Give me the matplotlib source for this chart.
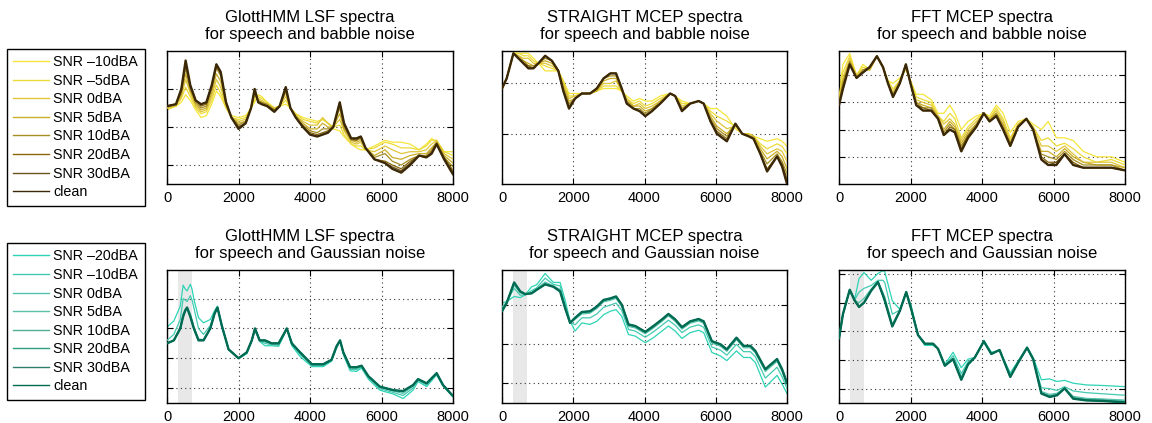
import matplotlib
matplotlib.use("Agg")
import matplotlib.pyplot as plt
from matplotlib.lines import Line2D

plt.rcParams['font.family'] = ['Liberation Sans', 'DejaVu Sans']

# ---- labels ----
babble_labels = ['SNR \u201310dBA', 'SNR \u20135dBA', 'SNR 0dBA', 'SNR 5dBA',
                 'SNR 10dBA', 'SNR 20dBA', 'SNR 30dBA', 'clean']
gauss_labels = ['SNR \u201320dBA', 'SNR \u201310dBA', 'SNR 0dBA', 'SNR 5dBA',
                'SNR 10dBA', 'SNR 20dBA', 'SNR 30dBA', 'clean']
babble_colors = ['#f6e53a', '#eddb38', '#dfc63a', '#ccae28', '#a68e22', '#866606', '#6b5220', '#3b2806']
gauss_colors = ['#2ed4b6', '#44cab1', '#52c2aa', '#5cc0aa', '#50ad98', '#2e9e82', '#2f7f70', '#006b52']

# ---- GlottHMM LSF, babble ----
f1 = [0, 250, 400, 520, 650, 800, 950, 1100, 1250, 1380, 1500, 1650, 1800, 2000, 2200, 2350,
      2450, 2550, 2650, 2800, 3000, 3150, 3320, 3450, 3600, 3800, 4000, 4200, 4350, 4500, 4650,
      4830, 4950, 5150, 5300, 5420, 5550, 5800, 6100, 6300, 6550, 6800, 7050, 7250, 7400, 7540,
      7750, 8000]
lsf_bab_m10 = [-31, -29, -27, -23, -26, -31, -35, -34, -28, -21, -24, -30, -34, -35, -34, -30, -27, -23, -24, -27,
               -30, -29, -28, -30, -33, -35, -36, -37, -36, -38, -41, -42, -45, -49, -51, -52, -52, -50, -47, -48,
               -48, -49, -52, -49, -46, -48, -53, -53]
lsf_bab_m5 = [-30, -29, -25, -19, -24, -30, -33, -32, -26, -18, -22, -30, -35, -36, -35, -30, -26, -24, -25, -27,
              -30, -29, -26, -30, -33, -36, -37, -38, -36, -38, -40, -39, -44, -49, -50, -50, -52, -51, -48, -49,
              -51, -51, -52, -50, -47, -47, -53, -55]
lsf_bab_0 = [-30, -29, -24, -15, -22, -29, -32, -31, -24, -15, -19, -29, -35, -37, -36, -30, -24, -25, -26, -28,
             -30, -29, -24, -30, -34, -37, -39, -39, -35, -38, -40, -36, -42, -48, -49, -48, -52, -53, -50, -52,
             -54, -53, -53, -52, -49, -47, -54, -57]
lsf_bab_5 = [-30, -28, -23, -12, -21, -28, -31, -30, -22, -12, -16, -28, -35, -38, -37, -30, -23, -26, -27, -28,
             -31, -29, -22, -30, -34, -38, -41, -41, -38, -40, -40, -33, -41, -47, -48, -47, -51, -55, -52, -56,
             -57, -55, -54, -54, -51, -48, -55, -59]
lsf_bab_10 = [-29, -28, -22, -9, -20, -27, -30, -29, -20, -9, -13, -28, -35, -39, -37, -30, -22, -26, -27, -28,
              -31, -29, -21, -30, -35, -39, -42, -43, -41, -41, -40, -30, -40, -47, -47, -46, -51, -56, -54, -58,
              -60, -57, -55, -55, -52, -48, -56, -61]
lsf_bab_20 = [-29, -28, -21, -7, -19, -26, -29, -28, -19, -8, -12, -27, -35, -40, -38, -30, -21, -27, -28, -29,
              -31, -29, -20, -30, -35, -40, -43, -44, -43, -42, -40, -28, -39, -46, -47, -45, -51, -57, -58, -60,
              -62, -58, -55, -56, -53, -49, -56, -63]
lsf_bab_30 = [-29, -28, -20, -6, -18, -26, -28, -27, -18, -7, -11, -27, -35, -40, -38, -30, -20, -27, -28, -29,
              -32, -29, -19, -30, -35, -40, -44, -45, -44, -43, -40, -27, -38, -46, -46, -45, -51, -57, -59, -61,
              -63, -59, -55, -56, -54, -49, -57, -64]
lsf_bab_clean = [-29, -28, -20, -5, -18, -26, -28, -27, -18, -7, -11, -27, -35, -41, -38, -30, -20, -27, -28, -29,
                 -32, -29, -19, -30, -35, -40, -44, -45, -44, -43, -40, -27, -38, -46, -46, -45, -51, -57, -59, -62,
                 -64, -60, -55, -56, -54, -49, -57, -65]

# ---- STRAIGHT MCEP, babble ----
f2 = [0, 130, 320, 460, 600, 740, 880, 1020, 1210, 1400, 1580, 1720, 1880, 2050, 2240, 2470, 2660, 2850,
      3040, 3200, 3360, 3500, 3690, 3860, 4020, 4210, 4440, 4720, 4860, 5050, 5280, 5520, 5660, 5850,
      6030, 6310, 6550, 6740, 6920, 7060, 7250, 7440, 7720, 7860, 8000]
st_bab_m10 = [-22, -18, -8, -8, -8, -8, -10, -12, -15, -15, -15, -19, -24, -24, -24, -24, -23, -22, -22, -22,
              -23, -25, -27, -26, -27, -27, -25, -24, -25, -27, -28, -27, -28, -30, -30, -33, -38, -40, -40, -41,
              -42, -43, -42, -43, -45]
st_bab_m5 = [-22, -18, -8, -8, -9, -9, -11, -12, -13, -14, -15, -19, -25, -25, -24, -24, -23, -21, -21, -21,
             -23, -26, -28, -27, -29, -28, -26, -24, -25, -28, -28, -27, -28, -31, -33, -35, -37, -40, -40, -41,
             -44, -46, -44, -45, -48]
st_bab_0 = [-22, -18, -8, -9, -10, -10, -12, -12, -12, -13, -15, -20, -26, -25, -24, -24, -23, -20, -20, -19,
            -23, -26, -29, -28, -30, -29, -27, -24, -25, -29, -28, -27, -28, -32, -35, -38, -37, -40, -40, -41,
            -45, -48, -46, -47, -51]
st_bab_5 = [-22, -18, -8, -9, -11, -12, -13, -12, -11, -12, -15, -21, -27, -26, -24, -24, -23, -19, -18, -18,
            -23, -27, -29, -29, -31, -30, -27, -24, -25, -30, -28, -27, -28, -33, -37, -40, -36, -40, -41, -41,
            -46, -50, -47, -49, -54]
st_bab_10 = [-22, -18, -8, -10, -11, -13, -13, -12, -10, -11, -15, -22, -28, -26, -24, -24, -22, -18, -17, -17,
             -22, -27, -30, -30, -32, -30, -28, -24, -25, -30, -28, -27, -28, -34, -38, -41, -36, -40, -41, -42,
             -47, -52, -48, -51, -56]
st_bab_20 = [-22, -18, -8, -10, -12, -13, -14, -12, -9, -11, -15, -23, -29, -26, -24, -24, -22, -18, -16, -16,
             -22, -28, -30, -31, -33, -31, -28, -24, -25, -31, -28, -27, -28, -35, -39, -42, -36, -40, -41, -42,
             -48, -54, -49, -52, -58]
st_bab_30 = [-22, -18, -8, -10, -12, -14, -14, -12, -9, -11, -15, -23, -30, -26, -24, -24, -22, -18, -16, -16,
             -22, -28, -30, -31, -33, -31, -28, -24, -25, -31, -28, -27, -28, -35, -40, -43, -36, -40, -41, -42,
             -48, -55, -49, -53, -59]
st_bab_clean = [-22, -18, -8, -10, -12, -14, -14, -12, -9, -11, -15, -23, -30, -26, -24, -24, -22, -18, -16, -16,
                -22, -28, -30, -31, -33, -31, -28, -24, -25, -31, -28, -27, -28, -35, -40, -43, -36, -40, -41, -42,
                -48, -55, -49, -53, -60]

# ---- FFT MCEP, babble ----
f3 = [0, 110, 300, 490, 670, 860, 1060, 1230, 1370, 1510, 1700, 1870, 2000, 2160, 2350, 2580, 2770, 2930,
      3100, 3240, 3420, 3610, 3840, 4050, 4210, 4400, 4590, 4790, 5010, 5240, 5430, 5660, 5850, 6080,
      6310, 6550, 6830, 7200, 7620, 8000]
fft_bab_m10 = [-17, -6, -2, -10, -6, -8, -3, -7, -12, -13, -11, -8, -12, -17, -17, -19, -24, -24, -21, -24,
               -30, -27, -25, -24, -25, -21, -24, -31, -27, -26, -28, -30, -27, -33, -33, -34, -38, -40, -40, -42]
fft_bab_m5 = [-18, -9, -3, -10, -7, -8, -3, -7, -12, -15, -12, -7, -12, -18, -19, -20, -25, -27, -24, -26,
              -33, -29, -26, -24, -26, -22, -26, -33, -28, -26, -29, -34, -33, -36, -35, -37, -40, -42, -41, -43]
fft_bab_0 = [-19, -11, -4, -10, -8, -8, -3, -7, -13, -16, -12, -7, -13, -19, -20, -21, -25, -28, -26, -28,
             -34, -30, -27, -24, -26, -23, -27, -34, -28, -26, -29, -36, -36, -38, -36, -39, -42, -42, -42, -44]
fft_bab_5 = [-19, -12, -5, -11, -8, -8, -3, -7, -13, -17, -12, -7, -13, -20, -21, -22, -25, -30, -27, -29,
             -35, -31, -28, -24, -26, -24, -28, -35, -28, -26, -30, -38, -38, -40, -37, -40, -42, -43, -43, -44]
fft_bab_10 = [-20, -13, -5, -11, -8, -7, -3, -7, -13, -17, -13, -6, -13, -20, -22, -22, -26, -31, -28, -30,
              -36, -32, -28, -24, -27, -24, -29, -35, -29, -26, -30, -39, -40, -41, -38, -41, -43, -43, -43, -45]
fft_bab_20 = [-20, -14, -6, -11, -9, -7, -3, -7, -13, -18, -13, -6, -13, -21, -22, -23, -26, -32, -29, -30,
              -37, -32, -29, -24, -27, -25, -30, -36, -29, -26, -30, -40, -42, -42, -39, -42, -44, -44, -44, -45]
fft_bab_30 = [-21, -15, -6, -11, -9, -7, -3, -7, -13, -18, -13, -6, -13, -21, -23, -23, -26, -32, -30, -31,
              -38, -33, -29, -24, -27, -25, -30, -36, -29, -26, -30, -41, -43, -42, -39, -43, -44, -44, -44, -45]
fft_bab_clean = [-21, -15, -6, -11, -9, -7, -3, -7, -13, -18, -13, -6, -13, -21, -23, -23, -26, -32, -30, -31,
                 -38, -33, -29, -24, -27, -25, -30, -36, -29, -26, -30, -41, -43, -43, -39, -43, -44, -44, -44, -45]

# ---- GlottHMM LSF, Gaussian ----
f4 = [0, 190, 370, 450, 510, 560, 650, 700, 750, 880, 1020, 1210, 1330, 1410, 1530, 1720, 2000, 2230,
      2370, 2460, 2590, 2740, 2930, 3120, 3260, 3350, 3490, 3720, 4050, 4370, 4600, 4740, 4840, 4930,
      5120, 5300, 5440, 5630, 5950, 6330, 6600, 6880, 7020, 7260, 7540, 7720, 8000]
lsf_gau_m20 = [-19.5, -17.5, -12.5, -5.5, -6.8, -7.4, -5.2, -6.8, -10.2, -16.4, -18.1, -17, -14, -12.5, -18.6,
               -27, -30, -28.5, -24.3, -20.6, -24.3, -25.8, -25.8, -26, -22.6, -20, -25.8, -29.4, -32.8, -32.8,
               -31, -26.6, -24.3, -28.8, -34.2, -34.4, -33.3, -37, -40.7, -42, -43.5, -40.7, -37.8, -39.5,
               -35.6, -39.3, -43]
lsf_gau_m10 = [-24, -22, -17, -10, -10.5, -11, -9, -10.5, -13, -20, -22, -19, -14.5, -12.8, -19, -27, -30,
               -28.3, -24.2, -20.3, -24.2, -25, -25.5, -25.6, -22.3, -20, -25.5, -28.7, -32.4, -32.4, -30.8,
               -26.3, -24.1, -28.4, -33.7, -33.8, -33, -36.6, -40.2, -41.5, -42.5, -40, -37.4, -39, -35.3,
               -39.2, -42.9]
lsf_gau_0 = [-25, -24, -19.5, -15, -13.5, -12.8, -15, -17, -19.5, -23.5, -23.8, -19.8, -15, -13, -19, -27, -30,
             -28, -24, -20.2, -24, -24.5, -25.2, -25.3, -22.1, -20, -25.2, -28.3, -32.2, -32.2, -30.6, -26.1,
             -24, -28.2, -33.3, -33.4, -32.7, -36.3, -39.8, -41, -41.8, -39.4, -37.2, -38.6, -35.1, -39.1, -42.8]
lsf_gau_5 = [-25, -24, -20, -15.6, -13.8, -13, -15.8, -17.8, -19.8, -23.8, -24, -20, -15, -13, -19, -27, -30,
             -28, -24, -20, -24, -24.3, -25.1, -25.1, -22, -20, -25.1, -28.1, -32.1, -32.1, -30.5, -26, -24,
             -28.1, -33.1, -33.2, -32.6, -36.1, -39.6, -40.8, -41.3, -39.2, -37.1, -38.5, -35, -39, -42.7]
lsf_gau_10 = [-25, -24, -20, -15.8, -13.9, -13, -15.9, -17.9, -19.9, -23.9, -24, -20, -15, -13, -19, -27, -30,
              -28, -24, -20, -24, -24.1, -25, -25, -22, -20, -25, -28, -32, -32, -30.5, -26, -24, -28, -33, -33,
              -32.5, -36, -39.5, -40.7, -41.1, -39.1, -37, -38.4, -35, -39, -42.7]
lsf_gau_20 = [-25, -24, -20, -16, -14, -13, -16, -18, -20, -24, -24, -20, -15, -13, -19, -27, -30, -28, -24,
              -20, -24, -24, -25, -25, -22, -20, -25, -28, -32, -32, -30.5, -26, -24, -28, -33, -33, -32.5, -36,
              -39.5, -40.7, -41, -39, -37, -38.4, -35, -39, -42.7]
lsf_gau_30 = [-25, -24, -20, -16, -14, -13, -16, -18, -20, -24, -24, -20, -15, -13, -19, -27, -30, -28, -24,
              -20, -24, -24, -25, -25, -22, -20, -25, -28, -32, -32, -30.5, -26, -24, -28, -33, -33, -32.5, -36,
              -39.5, -40.7, -41, -39, -37, -38.4, -35, -39, -42.7]
lsf_gau_clean = [-25, -24, -20, -16, -14, -13, -16, -18, -20, -24, -24, -20, -15, -13, -19, -27, -30, -28, -24,
                 -20, -24, -24, -25, -25, -22, -20, -25, -28, -32, -32, -30.5, -26, -24, -28, -33, -33, -32.5,
                 -36, -39.5, -40.7, -41, -39, -37, -38.4, -35, -39, -42.7]

# ---- STRAIGHT MCEP, Gaussian ----
f5 = [0, 130, 340, 510, 650, 830, 970, 1210, 1440, 1630, 1770, 1910, 2050, 2240, 2470, 2660, 2850, 3040,
      3200, 3360, 3550, 3740, 4020, 4250, 4490, 4670, 4860, 5050, 5280, 5520, 5660, 5890, 6130, 6310,
      6580, 6780, 6970, 7110, 7390, 7720, 7860, 8000]
st_gau_m20 = [-9.4, -9, -7.7, -8, -7.3, -5.2, -4.7, -1.8, -4.1, -4.1, -8.6, -14.1, -16.6, -14.5, -14.9, -14.1,
              -12.4, -11.5, -11.1, -12.8, -17.5, -17.9, -19.6, -18.3, -16.6, -15.3, -16.6, -18.5, -17, -16.4,
              -17, -22.1, -23, -24.2, -21.7, -23.4, -23.4, -24.7, -31, -28, -30.2, -32.7]
st_gau_m10 = [-10.4, -9.2, -5.6, -7.4, -7.3, -6.2, -5.5, -3, -4.6, -5, -9.6, -14.3, -15, -13.2, -13.2, -12.2,
              -10.5, -9.9, -9.4, -11.3, -16.2, -16.6, -18.2, -16.8, -15.1, -13.8, -15.1, -17, -15.6, -15, -15.6,
              -20.7, -21.5, -22.8, -20, -21.9, -21.9, -23.2, -28.7, -25.9, -28.3, -31.4]
st_gau_0 = [-11, -9.3, -4.8, -6.8, -7.2, -6.7, -5.8, -4, -5, -5.9, -10.3, -14.5, -13.6, -12.2, -12, -10.8, -9.1,
            -8.7, -8.2, -10.3, -15.4, -15.8, -17.3, -15.8, -14.1, -12.7, -14.1, -16.1, -14.6, -14, -14.6, -19.7,
            -20.5, -21.8, -18.8, -20.9, -20.9, -22.2, -27, -24.4, -27, -30.4]
st_gau_5 = [-11.3, -9.4, -4.3, -6.5, -7.1, -6.8, -5.9, -4.4, -5.1, -6.2, -10.5, -14.5, -13.3, -11.9, -11.7,
            -10.5, -8.8, -8.4, -7.9, -10, -15.1, -15.5, -17, -15.5, -13.8, -12.4, -13.8, -15.8, -14.3, -13.7,
            -14.3, -19.4, -20.2, -21.5, -18.5, -20.6, -20.6, -21.9, -26.6, -24, -26.6, -30.1]
st_gau_10 = [-11.4, -9.4, -4.2, -6.4, -7.1, -6.9, -6, -4.5, -5.2, -6.3, -10.6, -14.5, -13.2, -11.8, -11.6,
             -10.4, -8.7, -8.3, -7.8, -9.9, -15, -15.4, -16.9, -15.4, -13.7, -12.3, -13.7, -15.7, -14.2, -13.6,
             -14.2, -19.3, -20.1, -21.4, -18.4, -20.5, -20.5, -21.8, -26.5, -23.9, -26.5, -30]
st_gau_20 = [-11.5, -9.4, -4.1, -6.4, -7.1, -6.9, -6, -4.6, -5.2, -6.4, -10.7, -14.5, -13.2, -11.7, -11.5,
             -10.3, -8.6, -8.2, -7.7, -9.8, -14.9, -15.3, -16.8, -15.3, -13.6, -12.2, -13.6, -15.6, -14.1, -13.5,
             -14.1, -19.2, -20, -21.3, -18.3, -20.4, -20.4, -21.7, -26.4, -23.8, -26.4, -30]
st_gau_30 = [-11.5, -9.4, -4.1, -6.4, -7.1, -6.9, -6, -4.6, -5.2, -6.4, -10.7, -14.5, -13.2, -11.7, -11.5,
             -10.3, -8.6, -8.2, -7.7, -9.8, -14.9, -15.3, -16.8, -15.3, -13.6, -12.2, -13.6, -15.6, -14.1, -13.5,
             -14.1, -19.2, -20, -21.3, -18.3, -20.4, -20.4, -21.7, -26.4, -23.8, -26.4, -30]
st_gau_clean = [-11.5, -9.4, -4.1, -6.4, -7.1, -6.9, -6, -4.6, -5.2, -6.4, -10.7, -14.5, -13.2, -11.7, -11.5,
                -10.3, -8.6, -8.2, -7.7, -9.8, -14.9, -15.3, -16.8, -15.3, -13.6, -12.2, -13.6, -15.6, -14.1,
                -13.5, -14.1, -19.2, -20, -21.3, -18.3, -20.4, -20.4, -21.7, -26.4, -23.8, -26.4, -30]

# ---- FFT MCEP, Gaussian ----
f6 = [0, 110, 300, 440, 560, 700, 900, 1090, 1230, 1280, 1490, 1700, 1880, 2020, 2210, 2400, 2630, 2770,
      2960, 3190, 3420, 3610, 3800, 4050, 4260, 4490, 4790, 5010, 5260, 5430, 5660, 5890, 6100, 6310,
      6550, 6920, 7390, 8000]
fft_gau_m20 = [-22.5, -14, -5.5, -8.7, -1.6, 0.5, -2.2, 0.2, 1.2, 0.8, -9.3, -12.3, -6.3, -11.1, -21.3, -24.9,
               -24.9, -26.1, -31.5, -27.3, -32.7, -29.7, -29.1, -23.1, -27.3, -26.7, -34.5, -30.3, -25.5, -29.1,
               -36.9, -36.6, -37.5, -37.1, -38.1, -38.7, -38.9, -39.3]
fft_gau_m10 = [-22.5, -14, -5.5, -9, -6.3, -5, -4, -2.2, -2.2, -3, -14, -12.6, -6.3, -11.7, -21.3, -24.6,
               -24.6, -26.1, -31.8, -28.5, -34.7, -30.6, -29.1, -23.3, -27.6, -26.6, -35.2, -30.6, -25.6, -29.4,
               -39.7, -40, -40.6, -39.3, -40.8, -41.4, -41.8, -42.3]
fft_gau_0 = [-22.5, -14, -5.5, -9.2, -10, -8.5, -5.2, -2.6, -6.5, -8, -17.5, -12.8, -6.3, -12.1, -21.3, -24.4,
             -24.4, -26.1, -31.9, -29.3, -35.8, -31.2, -29.1, -23.4, -27.8, -26.5, -35.6, -30.8, -25.6, -29.6,
             -41, -42, -41.6, -39.7, -42.7, -43.4, -43.6, -44]
fft_gau_5 = [-22.5, -14, -5.5, -9.3, -11.3, -9.8, -5.7, -2.8, -7.3, -9.1, -18, -12.9, -6.3, -12.3, -21.3,
             -24.3, -24.3, -26.1, -32, -29.6, -36.5, -31.5, -29.1, -23.5, -27.9, -26.5, -35.8, -30.9, -25.7,
             -29.7, -41.3, -42.4, -41.9, -39.8, -43, -43.6, -43.8, -44.2]
fft_gau_10 = [-22.5, -14, -5.5, -9.3, -11.4, -9.9, -5.8, -2.8, -7.4, -9.2, -18.2, -12.9, -6.3, -12.3, -21.3,
              -24.3, -24.3, -26.1, -32, -29.7, -36.7, -31.5, -29.1, -23.5, -27.9, -26.5, -35.9, -30.9, -25.7,
              -29.7, -41.5, -42.6, -42.1, -39.8, -43.2, -43.8, -44, -44.5]
fft_gau_20 = [-22.5, -14, -5.5, -9.3, -11.5, -10, -5.8, -2.8, -7.5, -9.3, -18.3, -12.9, -6.3, -12.3, -21.3,
              -24.3, -24.3, -26.1, -32, -29.7, -36.9, -31.5, -29.1, -23.5, -27.9, -26.5, -35.9, -30.9, -25.7,
              -29.7, -41.6, -42.8, -42.2, -39.9, -43.4, -44, -44.2, -44.7]
fft_gau_30 = [-22.5, -14, -5.5, -9.3, -11.5, -10, -5.8, -2.8, -7.5, -9.3, -18.3, -12.9, -6.3, -12.3, -21.3,
              -24.3, -24.3, -26.1, -32, -29.7, -36.9, -31.5, -29.1, -23.5, -27.9, -26.5, -35.9, -30.9, -25.7,
              -29.7, -41.7, -42.9, -42.3, -39.9, -43.5, -44.1, -44.3, -44.8]
fft_gau_clean = [-22.5, -14, -5.5, -9.3, -11.5, -10, -5.8, -2.8, -7.5, -9.3, -18.3, -12.9, -6.3, -12.3, -21.3,
                 -24.3, -24.3, -26.1, -32, -29.7, -36.9, -31.5, -29.1, -23.5, -27.9, -26.5, -35.9, -30.9, -25.7,
                 -29.7, -41.7, -42.9, -42.3, -39.9, -43.5, -44.1, -44.3, -44.8]

fig = plt.figure(figsize=(11.52, 4.23), dpi=100)

cols = [0.145, 0.4358, 0.7283]
widths = [0.2483, 0.2474, 0.2483]
rows = [0.565, 0.0473]
height = 0.3144


def panel(col, row, f, curves, colors, title, yticks, ylim, band=False):
    ax = fig.add_axes([cols[col], rows[row], widths[col], height])
    if band:
        ax.axvspan(300, 700, color='#e8e8e8', lw=0, zorder=0)
    for i, y in enumerate(curves):
        last = i == len(curves) - 1
        ax.plot(f, y, color=colors[i], lw=1.7 if last else 0.9, zorder=2 + i,
                solid_joinstyle='round', solid_capstyle='round')
    ax.set_xlim(0, 8000)
    ax.set_ylim(*ylim)
    ax.set_xticks([0, 2000, 4000, 6000, 8000])
    ax.set_yticks(yticks)
    ax.set_yticklabels([])
    ax.tick_params(direction='in', length=4, labelsize=10.5, width=0.8, pad=5,
                   top=True, right=True)
    ax.grid(True, linestyle=(0, (1, 3)), color='#333333', lw=0.8)
    for s in ax.spines.values():
        s.set_linewidth(1.0)
    ax.set_title(title, fontsize=12, pad=9, linespacing=1.1)
    return ax


panel(0, 0, f1, [lsf_bab_m10, lsf_bab_m5, lsf_bab_0, lsf_bab_5, lsf_bab_10, lsf_bab_20, lsf_bab_30, lsf_bab_clean],
      babble_colors, 'GlottHMM LSF spectra\nfor speech and babble noise', [-60, -40, -20], (-70, 0))
panel(1, 0, f2, [st_bab_m10, st_bab_m5, st_bab_0, st_bab_5, st_bab_10, st_bab_20, st_bab_30, st_bab_clean],
      babble_colors, 'STRAIGHT MCEP spectra\nfor speech and babble noise', [-40, -20], (-60, -7.1))
panel(2, 0, f3, [fft_bab_m10, fft_bab_m5, fft_bab_0, fft_bab_5, fft_bab_10, fft_bab_20, fft_bab_30, fft_bab_clean],
      babble_colors, 'FFT MCEP spectra\nfor speech and babble noise', [-40, -30, -20, -10], (-50, -1.1))
panel(0, 1, f4, [lsf_gau_m20, lsf_gau_m10, lsf_gau_0, lsf_gau_5, lsf_gau_10, lsf_gau_20, lsf_gau_30, lsf_gau_clean],
      gauss_colors, 'GlottHMM LSF spectra\nfor speech and Gaussian noise', [-40, -30, -20, -10], (-45, -0.4),
      band=True)
panel(1, 1, f5, [st_gau_m20, st_gau_m10, st_gau_0, st_gau_5, st_gau_10, st_gau_20, st_gau_30, st_gau_clean],
      gauss_colors, 'STRAIGHT MCEP spectra\nfor speech and Gaussian noise', [-30, -20, -10], (-35.1, -0.9),
      band=True)
panel(2, 1, f6, [fft_gau_m20, fft_gau_m10, fft_gau_0, fft_gau_5, fft_gau_10, fft_gau_20, fft_gau_30, fft_gau_clean],
      gauss_colors, 'FFT MCEP spectra\nfor speech and Gaussian noise', [-40, -30, -20, -10, 0], (-45, 1.4),
      band=True)


def legend(labels, colors, top):
    handles = [Line2D([], [], color=c, lw=1.0) for c in colors]
    leg = fig.legend(handles, labels, loc='upper left', bbox_to_anchor=(0.006, top),
                     borderaxespad=0, fontsize=10.3, frameon=True, fancybox=False, edgecolor='black',
                     framealpha=1, handlelength=2.5, handletextpad=0.3, labelspacing=0.32, borderpad=0.45)
    leg.get_frame().set_linewidth(1.0)


legend(babble_labels, babble_colors, 0.885)
legend(gauss_labels, gauss_colors, 0.4255)

fig.savefig('out.png', dpi=100)
